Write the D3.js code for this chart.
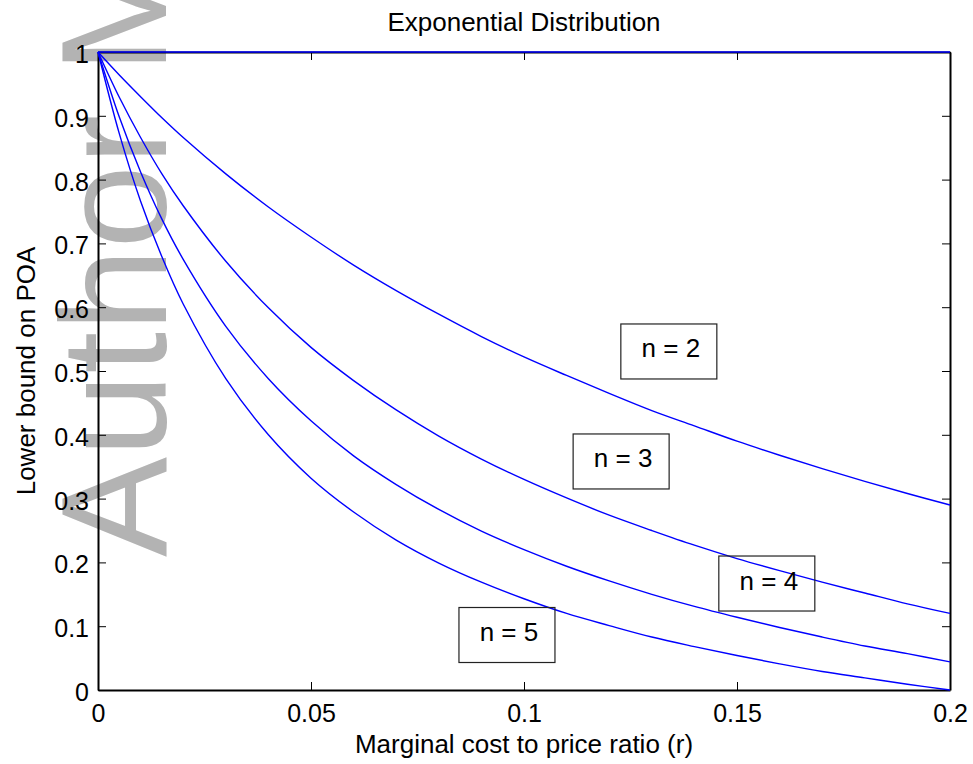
<!DOCTYPE html>
<html>
<head>
<meta charset="utf-8">
<script src="https://cdn.jsdelivr.net/npm/d3@7/dist/d3.min.js"></script>
<style>
  html, body { margin: 0; padding: 0; background: #ffffff; }
  svg { display: block; }
  text { font-family: "Liberation Sans", Arial, Helvetica, sans-serif; }
</style>
</head>
<body>
<svg id="chart" width="973" height="764"></svg>
<script>
// Marginal cost to price ratio r (x axis); denser near r = 0 where the curves bend most
const rValues = [0, 0.005, 0.01, 0.015, 0.02, 0.03, 0.04, 0.05, 0.06, 0.07, 0.08, 0.09, 0.10,
                 0.11, 0.12, 0.13, 0.14, 0.15, 0.16, 0.17, 0.18, 0.19, 0.20];

// Lower bound on the price of anarchy for each number of firms n
const poaN1 = [1, 1, 1, 1, 1, 1, 1, 1, 1, 1, 1, 1, 1, 1, 1, 1, 1, 1, 1, 1, 1, 1, 1];
const poaN2 = [1, 0.964, 0.930, 0.897, 0.866, 0.809, 0.757, 0.710, 0.666, 0.626, 0.589, 0.554, 0.522,
               0.493, 0.465, 0.438, 0.414, 0.390, 0.368, 0.347, 0.327, 0.308, 0.290];
const poaN3 = [1, 0.929, 0.866, 0.809, 0.759, 0.672, 0.599, 0.537, 0.485, 0.439, 0.398, 0.362, 0.330,
               0.301, 0.274, 0.250, 0.227, 0.206, 0.187, 0.169, 0.152, 0.135, 0.120];
const poaN4 = [1, 0.898, 0.812, 0.738, 0.675, 0.570, 0.488, 0.422, 0.367, 0.322, 0.283, 0.249, 0.220,
               0.194, 0.171, 0.150, 0.131, 0.114, 0.098, 0.083, 0.069, 0.057, 0.044];
const poaN5 = [1, 0.872, 0.766, 0.679, 0.605, 0.488, 0.400, 0.332, 0.279, 0.235, 0.199, 0.169, 0.143,
               0.120, 0.101, 0.083, 0.068, 0.054, 0.041, 0.029, 0.019, 0.009, 0];

const seriesList = [poaN1, poaN2, poaN3, poaN4, poaN5];

// Curve annotations: label text and the (r, bound) point each box is centred on
const noteLabels = ["n = 2", "n = 3", "n = 4", "n = 5"];
const noteR      = [0.1340, 0.1228, 0.1570, 0.0960];
const noteV      = [0.5306, 0.3582, 0.1669, 0.0862];

// Axis ticks
const xTicks = [0, 0.05, 0.1, 0.15, 0.2];
const xTickLabels = ["0", "0.05", "0.1", "0.15", "0.2"];
const yTicks = [0, 0.1, 0.2, 0.3, 0.4, 0.5, 0.6, 0.7, 0.8, 0.9, 1];
const yTickLabels = ["0", "0.1", "0.2", "0.3", "0.4", "0.5", "0.6", "0.7", "0.8", "0.9", "1"];

const titleText = "Exponential Distribution";
const xLabelText = "Marginal cost to price ratio (r)";
const yLabelText = "Lower bound on POA";

const svg = d3.select("#chart");
const W = 973, H = 764;
const margin = { top: 52, right: 23, bottom: 74, left: 98 };
const innerW = W - margin.left - margin.right;
const innerH = H - margin.top - margin.bottom;

// Rotated gray banner along the left edge, behind the plot
svg.append("text")
  .attr("transform", "translate(166,557) rotate(-90)")
  .attr("text-anchor", "start")
  .attr("font-size", 150)
  .attr("fill", "#b3b3b3")
  .text("Author Manuscript");

const g = svg.append("g").attr("transform", `translate(${margin.left},${margin.top})`);

const x = d3.scaleLinear().domain([0, 0.2]).range([0, innerW]);
const y = d3.scaleLinear().domain([0, 1]).range([innerH, 0]);

const tickFont = 25;

// Bottom axis with inward ticks
const xAxis = g.append("g")
  .attr("transform", `translate(0,${innerH})`)
  .call(d3.axisBottom(x).tickValues(xTicks)
    .tickFormat((d, i) => xTickLabels[i])
    .tickSizeInner(-8).tickSizeOuter(0).tickPadding(14));

// Left axis with inward ticks
const yAxis = g.append("g")
  .call(d3.axisLeft(y).tickValues(yTicks)
    .tickFormat((d, i) => yTickLabels[i])
    .tickSizeInner(-8).tickSizeOuter(0).tickPadding(9));

// Top and right: ticks only
const xTop = g.append("g")
  .call(d3.axisTop(x).tickValues(xTicks).tickFormat("")
    .tickSizeInner(-8).tickSizeOuter(0));
const yRight = g.append("g")
  .attr("transform", `translate(${innerW},0)`)
  .call(d3.axisRight(y).tickValues(yTicks).tickFormat("")
    .tickSizeInner(-8).tickSizeOuter(0));

[xAxis, yAxis, xTop, yRight].forEach(a => {
  a.select(".domain").attr("stroke", "#000").attr("stroke-width", 2);
  a.selectAll(".tick line").attr("stroke", "#000").attr("stroke-width", 1);
  a.selectAll(".tick text")
    .attr("font-size", tickFont)
    .attr("font-family", "'Liberation Sans', Arial, Helvetica, sans-serif")
    .attr("fill", "#000");
});
yAxis.selectAll(".tick text").attr("dy", "0.42em");

// Curves
const line = d3.line()
  .x((d, i) => x(rValues[i]))
  .y(d => y(d))
  .curve(d3.curveCatmullRom.alpha(0.5));

g.append("g")
  .selectAll("path")
  .data(seriesList)
  .join("path")
  .attr("d", d => line(d))
  .attr("fill", "none")
  .attr("stroke", "#0000ff")
  .attr("stroke-width", 1.4);

// Boxed curve labels
const noteW = 96, noteH = 55;
const notes = g.append("g")
  .selectAll("g")
  .data(noteLabels)
  .join("g")
  .attr("transform", (d, i) => `translate(${x(noteR[i])},${y(noteV[i])})`);
notes.append("rect")
  .attr("x", -noteW / 2).attr("y", -noteH / 2)
  .attr("width", noteW).attr("height", noteH)
  .attr("fill", "none")
  .attr("stroke", "#222")
  .attr("stroke-width", 1.2);
notes.append("text")
  .attr("x", 2).attr("y", 6)
  .attr("text-anchor", "middle")
  .attr("font-size", 26)
  .attr("fill", "#000")
  .text(d => d);

// Title and axis labels
svg.append("text")
  .attr("x", margin.left + innerW / 2).attr("y", 31)
  .attr("text-anchor", "middle")
  .attr("font-size", 26)
  .text(titleText);

svg.append("text")
  .attr("x", margin.left + innerW / 2).attr("y", 753)
  .attr("text-anchor", "middle")
  .attr("font-size", 26)
  .text(xLabelText);

svg.append("text")
  .attr("transform", `translate(35,${margin.top + innerH / 2}) rotate(-90)`)
  .attr("text-anchor", "middle")
  .attr("font-size", 26)
  .text(yLabelText);
</script>
</body>
</html>
